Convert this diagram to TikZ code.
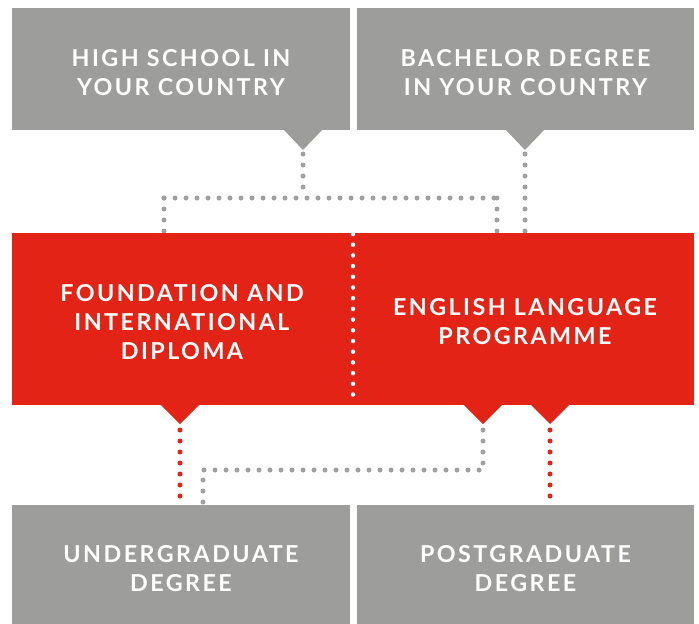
\documentclass[tikz,border=0pt]{standalone}
\usepackage{fontspec}
\setmainfont{Lato}[LetterSpace=10.5]
\usetikzlibrary{backgrounds}
\definecolor{boxgray}{HTML}{9D9D9C}
\definecolor{boxred}{HTML}{E32315}
\definecolor{dotgray}{HTML}{A0A0A0}
\tikzset{
  box/.style={inner sep=0pt, outer sep=0pt, draw=none},
  graybox/.style={box, fill=boxgray},
  redbox/.style={box, fill=boxred},
  lbl/.style={text=white, align=center, inner sep=0pt, font=\fontsize{23.3}{29}\selectfont\bfseries},
  dots/.style={line width=5pt, line cap=round, dash pattern=on 0pt off 11pt},
  graydots/.style={dots, draw=dotgray},
  reddots/.style={dots, draw=boxred},
  whitedots/.style={dots, draw=white, line width=4.5pt, dash pattern=on 0pt off 10.7pt},
}
\begin{document}
\begin{tikzpicture}[x=1pt,y=-1pt]
\useasboundingbox (0,0) rectangle (699,624);
% top boxes
\node[graybox, minimum width=338pt, minimum height=122pt] (hs) at (181,69) {};
\node[graybox, minimum width=337pt, minimum height=122pt] (bd) at (525.5,69) {};
\fill[boxgray] (283,129) -- (323,129) -- (303,150) -- cycle;
\fill[boxgray] (505,129) -- (545,129) -- (525,150) -- cycle;
\coordinate (hsTip) at (303,154);
\coordinate (bdTip) at (525,154);
% red boxes
\node[redbox, minimum width=341.5pt, minimum height=172pt] (fd) at (182.75,319) {};
\node[redbox, minimum width=341.5pt, minimum height=172pt] (el) at (523.25,319) {};
\fill[boxred] (160,404) -- (200,404) -- (180,424) -- cycle;
\fill[boxred] (463,404) -- (503,404) -- (483,424) -- cycle;
\fill[boxred] (530,404) -- (570,404) -- (550,424) -- cycle;
\coordinate (fdTip) at (180,430);
\coordinate (elTipA) at (483,430);
\coordinate (elTipB) at (550,430);
% bottom boxes
\node[graybox, minimum width=338pt, minimum height=120pt] (ug) at (181,565) {};
\node[graybox, minimum width=337pt, minimum height=120pt] (pg) at (525.5,565) {};
% junction coordinates
\coordinate (j1) at (303,198);
\coordinate (j1L) at (164,198);
\coordinate (j1R) at (497,198);
\coordinate (j2) at (483,470);
\coordinate (j2L) at (203,470);
\coordinate (divTop) at (353,234);
\coordinate (divBot) at (353,404);
% connectors
\begin{scope}[on background layer]
\draw[graydots] (hsTip) -- (j1);
\draw[graydots] (j1L) -- (j1R);
\draw[graydots] (j1L) -- (j1L |- fd.north);
\draw[graydots] (j1R) -- (j1R |- el.north);
\draw[graydots] (bdTip) -- (bdTip |- el.north);
\draw[reddots] (fdTip) -- (fdTip |- ug.north);
\draw[reddots] (elTipB) -- (elTipB |- pg.north);
\draw[graydots] (elTipA) -- (j2) -- (j2L) -- (j2L |- ug.north);
\end{scope}
\draw[whitedots] (divTop) -- (divBot);
% labels
\node[lbl] (hsT) at (181,72.5) {HIGH SCHOOL IN\\YOUR COUNTRY};
\node[lbl] (bdT) at (525.5,72.5) {BACHELOR DEGREE\\IN YOUR COUNTRY};
\node[lbl] (fdT) at (182,322) {FOUNDATION AND\\INTERNATIONAL\\DIPLOMA};
\node[lbl] (elT) at (525,321.5) {ENGLISH LANGUAGE\\PROGRAMME};
\node[lbl] (ugT) at (181,569) {UNDERGRADUATE\\DEGREE};
\node[lbl] (pgT) at (525.5,569) {POSTGRADUATE\\DEGREE};
\end{tikzpicture}
\end{document}
